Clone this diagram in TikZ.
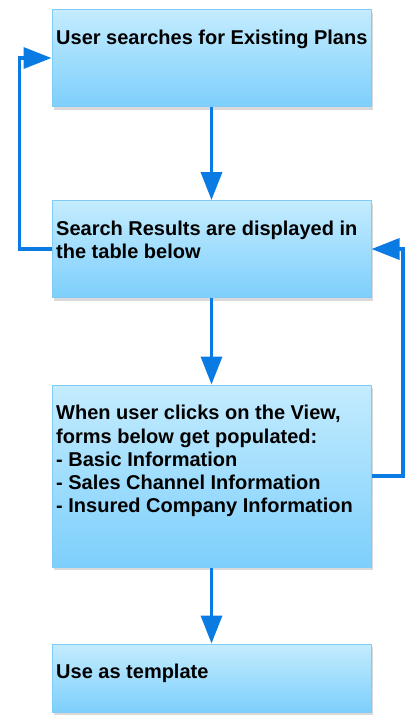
\documentclass[tikz,border=0pt]{standalone}
\usepackage{fontspec}
\setmainfont{Liberation Sans}
\usetikzlibrary{arrows.meta,shadows}
\definecolor{boxtop}{HTML}{C4ECFE}
\definecolor{boxbottom}{HTML}{7DCFFC}
\definecolor{boxline}{HTML}{80CCF6}
\definecolor{flowblue}{HTML}{0B7BE4}

\begin{document}
\begin{tikzpicture}[x=1pt, y=-1pt, font=\bfseries\fontsize{20}{23.3}\selectfont,
    stepbox/.style={draw=boxline, line width=1pt, top color=boxtop, bottom color=boxbottom,
        minimum width=319pt, inner sep=0pt,
        drop shadow={shadow xshift=2pt, shadow yshift=-3pt, opacity=0.3}},
    steptext/.style={anchor=north west, inner sep=0pt, align=left},
    flow/.style={draw=flowblue, line width=3.5pt, -{Triangle[length=28pt,width=21pt]}}]
        \useasboundingbox (0,0) rectangle (408,716);
        % the four steps
        \node[stepbox, minimum height=97pt] (search) at (211.5,58) {};
        \node[stepbox, minimum height=97pt] (results) at (211.5,249) {};
        \node[stepbox, minimum height=182pt] (view) at (211.5,476) {};
        \node[stepbox, minimum height=68pt] (template) at (211.5,678) {};
        \node[steptext] (searchtxt) at ([shift={(4.5pt,-18.7pt)}]search.north west) {\strut User searches for Existing Plans};
        \node[steptext] (resultstxt) at ([shift={(4.5pt,-18.7pt)}]results.north west) {\strut Search Results are displayed in\\the table below};
        \node[steptext] (viewtxt) at ([shift={(4.5pt,-18.7pt)}]view.north west) {\strut When user clicks on the View,\\forms below get populated:\\- Basic Information\\- Sales Channel Information\\- Insured Company Information};
        \node[steptext] (templatetxt) at ([shift={(4.5pt,-18.7pt)}]template.north west) {\strut Use as template};
        % connectors
        \draw[flow] (search.south) -- (results.north);
        \draw[flow] (results.south) -- (view.north);
        \draw[flow] (view.south) -- (template.north);
        \draw[flow] (results.west) -- ++(-32,0) |- (search.west);
        \draw[flow] (view.east) -- ++(31.5,0) |- (results.east);
    \end{tikzpicture}
\end{document}
